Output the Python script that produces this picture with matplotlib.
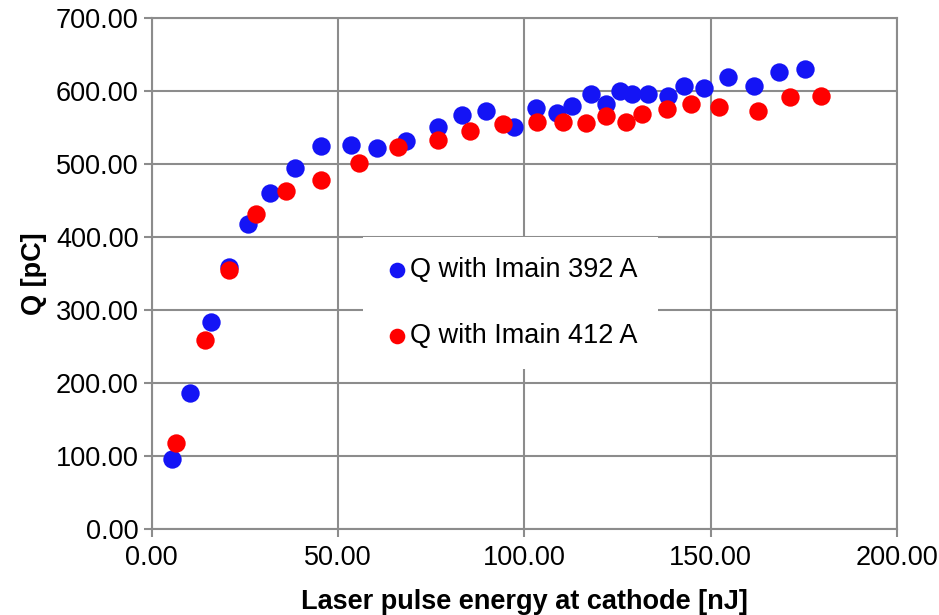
import matplotlib
matplotlib.use("Agg")
import matplotlib.pyplot as plt

plt.rcParams['font.family'] = ['Liberation Sans', 'DejaVu Sans']

# Q with Imain 392 A
x_392 = [5.4, 10.4, 15.8, 20.6, 25.8, 31.7, 38.5, 45.4, 53.4, 60.5,
         68.3, 76.7, 83.2, 89.7, 97.3, 103.2, 108.7, 112.7, 117.9, 121.9,
         125.7, 129.0, 133.2, 138.6, 142.8, 148.3, 154.7, 161.6, 168.4, 175.4]
q_392 = [95.9, 187.0, 283.5, 359.0, 418.0, 461.0, 494.5, 524.6, 526.4, 522.0,
         532.3, 551.0, 567.5, 573.0, 551.5, 576.7, 570.7, 580.0, 595.9, 582.6,
         600.4, 597.0, 596.3, 593.6, 607.3, 604.0, 620.0, 607.3, 626.0, 630.5]

# Q with Imain 412 A
x_412 = [6.6, 14.4, 20.6, 28.0, 36.0, 45.4, 55.6, 66.1, 76.7, 85.4,
         94.3, 103.4, 110.4, 116.5, 121.9, 127.2, 131.6, 138.4, 144.6, 152.3,
         162.6, 171.4, 179.6]
q_412 = [118.6, 259.7, 355.0, 432.0, 463.8, 478.5, 501.4, 523.3, 534.0, 546.0,
         554.8, 557.5, 558.0, 556.0, 566.0, 557.5, 568.9, 575.8, 582.6, 579.0,
         573.0, 592.6, 593.6]

xticks = [0, 50, 100, 150, 200]
yticks = [0, 100, 200, 300, 400, 500, 600, 700]

fs = 19.5
grid_c = '#8c8c8c'

fig = plt.figure(figsize=(9.39, 6.15), dpi=100)
ax = fig.add_axes([0.1616, 0.1393, 0.7937, 0.8309])

ax.scatter(x_392, q_392, s=175, color='#1414F5', label='Q with Imain 392 A', zorder=3, linewidths=0)
ax.scatter(x_412, q_412, s=175, color='#FF0000', label='Q with Imain 412 A', zorder=3, linewidths=0)

ax.set_xlim(0, 200)
ax.set_ylim(0, 700)
ax.set_xticks(xticks)
ax.set_yticks(yticks)
ax.set_xticklabels([f'{v:.2f}' for v in xticks])
ax.set_yticklabels([f'{v:.2f}' for v in yticks])
ax.tick_params(axis='both', labelsize=fs, colors=grid_c, labelcolor='black',
               length=6, width=1.5, direction='out')
ax.tick_params(axis='x', pad=5)
ax.grid(True, color=grid_c, linewidth=1.5)
ax.set_axisbelow(True)
for sp in ax.spines.values():
    sp.set_color(grid_c)
    sp.set_linewidth(1.5)

ax.set_xlabel('Laser pulse energy at cathode [nJ]', fontsize=fs, fontweight='bold', labelpad=13)
ax.set_ylabel('Q [pC]', fontsize=fs, fontweight='bold', labelpad=6)

leg = ax.legend(loc='upper left', bbox_to_anchor=(0.2835, 0.572), fontsize=fs,
                frameon=True, facecolor='white', edgecolor='none', framealpha=1,
                fancybox=False, markerscale=0.85, handletextpad=0.0,
                borderpad=0.75, labelspacing=1.45, handlelength=1.0,
                borderaxespad=0)
leg.set_zorder(5)

fig.savefig('out.png', dpi=100)
